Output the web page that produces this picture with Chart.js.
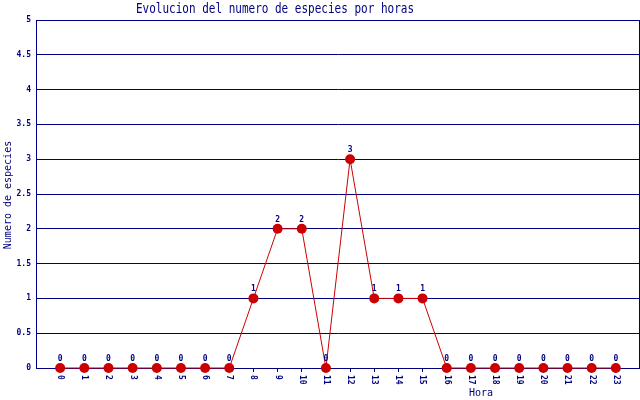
<!DOCTYPE html>
<html>
<head>
<meta charset="utf-8">
<script src="https://cdn.jsdelivr.net/npm/chart.js@4/dist/chart.umd.min.js"></script>
<style>
  body { margin: 0; background: #fff; }
  #wrap { width: 640px; height: 400px; }
</style>
</head>
<body>
<div id="wrap"><canvas id="chart"></canvas></div>
<script>
const hours = [0,1,2,3,4,5,6,7,8,9,10,11,12,13,14,15,16,17,18,19,20,21,22,23];
const species = [0,0,0,0,0,0,0,0,1,2,2,0,3,1,1,1,0,0,0,0,0,0,0,0];
const yTicks = [0,0.5,1,1.5,2,2.5,3,3.5,4,4.5,5];

const navy = '#000080';
const red = '#cc0000';
const mono = '"DejaVu Sans Mono", monospace';

const extras = {
    id: 'extras',
    afterDraw(chart) {
        const ctx = chart.ctx;
        const a = chart.chartArea;
        const xs = chart.scales.x;
        ctx.save();
        // frame
        ctx.strokeStyle = navy;
        ctx.lineWidth = 1;
        ctx.beginPath();
        ctx.moveTo(a.left + 0.5, a.bottom);
        ctx.lineTo(a.left + 0.5, a.top + 0.5);
        ctx.lineTo(a.right - 0.5, a.top + 0.5);
        ctx.lineTo(a.right - 0.5, a.bottom);
        ctx.stroke();

        // title (slightly tall, narrow look)
        ctx.fillStyle = navy;
        ctx.font = '11px ' + mono;
        ctx.textAlign = 'center';
        ctx.textBaseline = 'middle';
        ctx.save();
        ctx.translate(275, 9);
        ctx.scale(1, 1.3);
        ctx.fillText('Evolucion del numero de especies por horas', 0, 0);
        ctx.restore();

        // x tick labels, rotated clockwise
        ctx.font = 'bold 8px ' + mono;
        hours.forEach(h => {
            const x = xs.getPixelForValue(h);
            ctx.save();
            ctx.translate(x, 375);
            ctx.rotate(Math.PI / 2);
            ctx.textAlign = 'left';
            ctx.textBaseline = 'middle';
            ctx.fillText(String(h), 0, 0);
            ctx.restore();
        });

        // value labels
        const meta = chart.getDatasetMeta(0);
        ctx.textAlign = 'center';
        ctx.textBaseline = 'bottom';
        meta.data.forEach((pt, i) => {
            ctx.fillText(String(species[i]), pt.x, pt.y - 5);
        });

        // axis titles
        ctx.font = '10px ' + mono;
        ctx.textBaseline = 'middle';
        ctx.fillText('Hora', 481, 393);
        ctx.save();
        ctx.translate(8, 195);
        ctx.rotate(-Math.PI / 2);
        ctx.fillText('Numero de especies', 0, 0);
        ctx.restore();
        ctx.restore();
    }
};

new Chart(document.getElementById('chart'), {
    type: 'line',
    data: {
        datasets: [{
            data: hours.map((h, i) => ({ x: h, y: species[i] })),
            borderColor: red,
            borderWidth: 1,
            backgroundColor: red,
            pointBackgroundColor: red,
            pointBorderColor: red,
            pointRadius: 5,
            pointBorderWidth: 0,
            tension: 0,
            clip: false
        }]
    },
    options: {
        responsive: true,
        maintainAspectRatio: false,
        animation: false,
        layout: { autoPadding: false, padding: { top: 20, right: 0, left: 0, bottom: 0 } },
        plugins: {
            legend: { display: false },
            tooltip: { enabled: false }
        },
        scales: {
            x: {
                type: 'linear',
                min: -1,
                max: 24,
                afterFit(scale) { scale.height = 32; },
                ticks: { display: false, stepSize: 1 },
                grid: {
                    drawOnChartArea: false,
                    drawTicks: true,
                    tickLength: 4,
                    color: ctx => (ctx.tick && (ctx.tick.value < 0 || ctx.tick.value > 23)) ? 'rgba(0,0,0,0)' : navy
                },
                border: { color: navy, width: 1 }
            },
            y: {
                min: 0,
                max: 5,
                afterFit(scale) { scale.width = 36; },
                afterBuildTicks(scale) { scale.ticks = yTicks.map(v => ({ value: v })); },
                ticks: {
                    color: navy,
                    padding: 5,
                    font: { family: mono, size: 8, weight: 'bold' },
                    callback: v => String(v)
                },
                grid: { color: navy, drawTicks: false, lineWidth: 1 },
                border: { color: navy }
            }
        }
    },
    plugins: [extras]
});
</script>
</body>
</html>
